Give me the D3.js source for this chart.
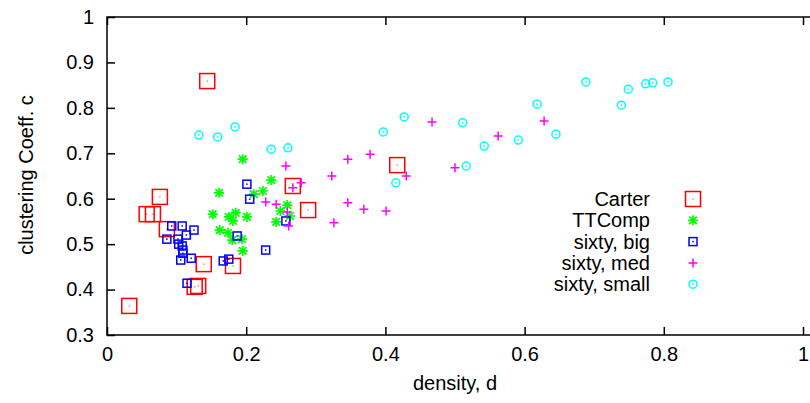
<!DOCTYPE html>
<html><head><meta charset="utf-8">
<script src="https://cdn.jsdelivr.net/npm/d3@7"></script>
<style>body{margin:0;background:#fff}svg{display:block}text{font-family:"Liberation Sans",Arial,sans-serif;}</style>
</head><body><svg id="c" width="810" height="403"></svg>
<script>
const xTicks=[0,0.2,0.4,0.6,0.8,1];
const yTicks=[0.3,0.4,0.5,0.6,0.7,0.8,0.9,1];
const seriesNames=["Carter","TTComp","sixty, big","sixty, med","sixty, small"];
const carter=[[0.144,0.859],[0.032,0.364],[0.076,0.604],[0.057,0.566],[0.066,0.566],[0.086,0.533],[0.139,0.456],[0.181,0.452],[0.126,0.406],[0.131,0.408],[0.267,0.628],[0.289,0.575],[0.417,0.674]];
const ttcomp=[[0.195,0.687],[0.161,0.613],[0.236,0.641],[0.211,0.610],[0.224,0.617],[0.152,0.566],[0.175,0.560],[0.185,0.569],[0.181,0.551],[0.201,0.560],[0.162,0.531],[0.174,0.525],[0.180,0.509],[0.194,0.511],[0.195,0.485],[0.259,0.586],[0.249,0.573],[0.243,0.549],[0.263,0.562]];
const sixtyBig=[[0.201,0.632],[0.205,0.599],[0.093,0.540],[0.108,0.540],[0.125,0.531],[0.114,0.520],[0.086,0.511],[0.102,0.511],[0.103,0.500],[0.108,0.496],[0.109,0.487],[0.109,0.480],[0.121,0.469],[0.106,0.465],[0.167,0.463],[0.175,0.467],[0.187,0.518],[0.228,0.487],[0.257,0.551],[0.115,0.414]];
const sixtyMed=[[0.257,0.672],[0.279,0.635],[0.267,0.624],[0.228,0.593],[0.243,0.588],[0.259,0.571],[0.261,0.540],[0.323,0.650],[0.346,0.687],[0.378,0.698],[0.346,0.591],[0.369,0.577],[0.401,0.573],[0.326,0.547],[0.430,0.650],[0.467,0.769],[0.500,0.668],[0.562,0.738],[0.628,0.771]];
const sixtySmall=[[0.132,0.740],[0.159,0.736],[0.184,0.758],[0.236,0.709],[0.260,0.712],[0.397,0.747],[0.415,0.635],[0.427,0.780],[0.511,0.767],[0.516,0.672],[0.542,0.716],[0.591,0.729],[0.618,0.808],[0.645,0.742],[0.688,0.857],[0.739,0.806],[0.749,0.841],[0.774,0.853],[0.784,0.855],[0.806,0.857]];

const svg=d3.select("#c");
const L=107,R=803,T=17,B=335;
const x=d3.scaleLinear().domain([0,1]).range([L,R]);
const y=d3.scaleLinear().domain([0.3,1]).range([B,T]);
const fmt=d3.format("~g");
const FS=20;

// axes
const gx=svg.append("g").attr("transform",`translate(0,${B})`)
  .call(d3.axisBottom(x).tickValues(xTicks).tickFormat(fmt).tickSize(-8).tickPadding(12));
const gxt=svg.append("g").attr("transform",`translate(0,${T})`)
  .call(d3.axisTop(x).tickValues(xTicks).tickFormat("").tickSize(-8));
const gy=svg.append("g").attr("transform",`translate(${L},0)`)
  .call(d3.axisLeft(y).tickValues(yTicks).tickFormat(fmt).tickSize(-8).tickPadding(13));
[gx,gxt,gy].forEach(g=>{g.select(".domain").remove();g.selectAll("line").attr("stroke","#000").attr("stroke-width",1.5);
  g.selectAll("text").attr("font-size",FS).attr("fill","#000").attr("font-family","Liberation Sans, Arial, sans-serif");});
// box
svg.append("path").attr("d",`M810,${T}H${L}V${B}H810`).attr("fill","none").attr("stroke","#000").attr("stroke-width",1.5);

svg.append("text").attr("x",(L+R)/2).attr("y",390).attr("text-anchor","middle").attr("font-size",FS).text("density, d");
svg.append("text").attr("transform","translate(33,175) rotate(-90)").attr("text-anchor","middle").attr("font-size",FS).text("clustering Coeff. c");

// marker painters
const colors=["#ff0000","#00ff00","#0000ff","#ff00ff","#00ffff"];
function marker(g,type,cx,cy,col){
  const s=g.append("g").attr("transform",`translate(${cx},${cy})`).attr("stroke",col).attr("fill","none").attr("stroke-width",1.5);
  if(type===0){s.append("rect").attr("x",-7.5).attr("y",-7.5).attr("width",15).attr("height",15);
    s.append("rect").attr("x",-0.5).attr("y",-0.5).attr("width",1).attr("height",1).attr("stroke","none").attr("fill",col);}
  else if(type===1){const r=5;s.attr("stroke-width",1.7);s.append("path").attr("d",`M${-r},0H${r}M0,${-r}V${r}M${-r*0.75},${-r*0.75}L${r*0.75},${r*0.75}M${-r*0.75},${r*0.75}L${r*0.75},${-r*0.75}`);}
  else if(type===2){s.append("rect").attr("x",-4).attr("y",-4).attr("width",8).attr("height",8);
    s.append("rect").attr("x",-0.75).attr("y",-0.75).attr("width",1.5).attr("height",1.5).attr("stroke","none").attr("fill",col);}
  else if(type===3){const r=4.5;s.append("path").attr("d",`M${-r},0H${r}M0,${-r}V${r}`);}
  else {s.append("circle").attr("r",4);
    s.append("rect").attr("x",-0.75).attr("y",-0.75).attr("width",1.5).attr("height",1.5).attr("stroke","none").attr("fill",col);}
}
const all=[carter,ttcomp,sixtyBig,sixtyMed,sixtySmall];
all.forEach((data,i)=>{
  const g=svg.append("g");
  data.forEach(d=>marker(g,i,x(d[0]),y(d[1]),colors[i]));
});
// legend
const lg=svg.append("g");
seriesNames.forEach((n,i)=>{
  const yy=199+i*21.3;
  lg.append("text").attr("x",650).attr("y",yy).attr("dy","0.35em").attr("text-anchor","end").attr("font-size",FS).text(n);
  marker(lg,i,693,yy,colors[i]);
});
</script></body></html>
